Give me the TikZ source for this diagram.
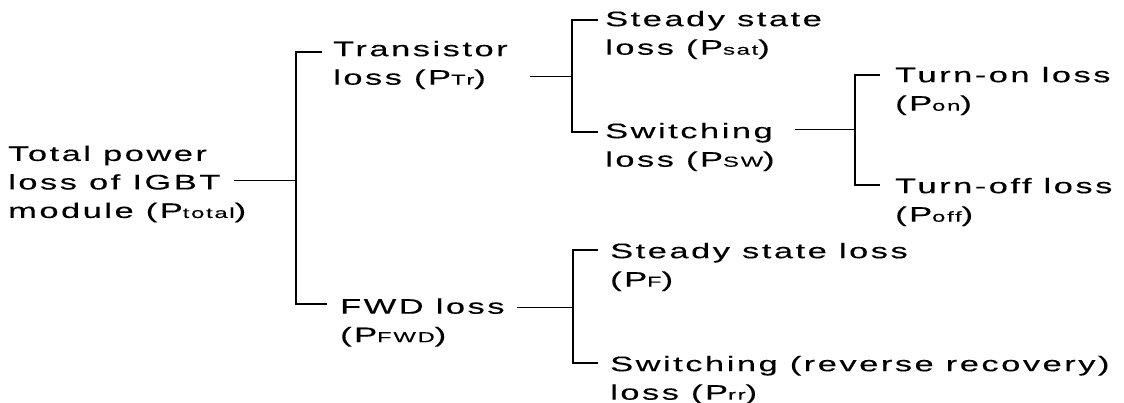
\documentclass[tikz,border=0pt]{standalone}
\usepackage{fontspec}
\setmainfont{Liberation Sans}[FakeStretch=1.64,LetterSpace=12,FakeBold=0.25]
\newcommand\lsub[1]{{\fontsize{14.5}{14.5}\selectfont #1}}
\begin{document}
\begin{tikzpicture}[x=1pt,y=-1pt,
  lbl/.style={anchor=west,inner sep=0pt,align=left,
    font=\fontsize{21}{28.5}\selectfont},
  trunk/.style={line width=2pt},
  branch/.style={line width=1.2pt},
  link/.style={line width=1pt}]
\useasboundingbox (0,0) rectangle (1124,403);

% labels
\node[lbl] (total) at (8,184) {Total power\\loss of IGBT\\module (P\lsub{total})};
\node[lbl] (tr) at (333,65) {Transistor\\loss (P\lsub{Tr})};
\node[lbl] (fwd) at (340,322.5) {FWD loss\\(P\lsub{FWD})};
\node[lbl] (sat) at (605,35) {Steady state\\loss (P\lsub{sat})};
\node[lbl] (sw) at (605,147) {Switching\\loss (P\lsub{SW})};
\node[lbl] (on) at (895,91) {Turn-on loss\\(P\lsub{on})};
\node[lbl] (off) at (895,202) {Turn-off loss\\(P\lsub{off})};
\node[lbl] (pf) at (610,267) {Steady state loss\\(P\lsub{F})};
\node[lbl] (rr) at (610,380) {Switching (reverse recovery)\\loss (P\lsub{rr})};

% bracket joints
\coordinate (mJ) at (296,181);
\coordinate (aJ) at (572,77);
\coordinate (bJ) at (855,130);
\coordinate (cJ) at (573,307);

% first level
\draw[link] ([xshift=-12pt]total.east |- mJ) -- (mJ);
\draw[trunk] (296,52) -- (296,304);
\draw[branch] (295,52) -- ([xshift=-11pt]tr.west |- 0,52);
\draw[branch] (295,304) -- ([xshift=-13pt]fwd.west |- 0,304);

% transistor branch
\draw[link] ([xshift=22pt]tr.east |- aJ) -- (aJ);
\draw[branch] ([xshift=-7pt]sat.west |- 0,20) -| (aJ) |- ([xshift=-7pt]sw.west |- 0,132);

% switching branch
\draw[link] ([xshift=20pt]sw.east |- bJ) -- (bJ);
\draw[branch] ([xshift=-15pt]on.west |- 0,75) -| (bJ) |- ([xshift=-15pt]off.west |- 0,185);

% diode branch
\draw[link] ([xshift=12pt]fwd.east |- cJ) -- (cJ);
\draw[branch] ([xshift=-12pt]pf.west |- 0,250) -| (cJ) |- ([xshift=-12pt]rr.west |- 0,363);
\end{tikzpicture}
\end{document}
